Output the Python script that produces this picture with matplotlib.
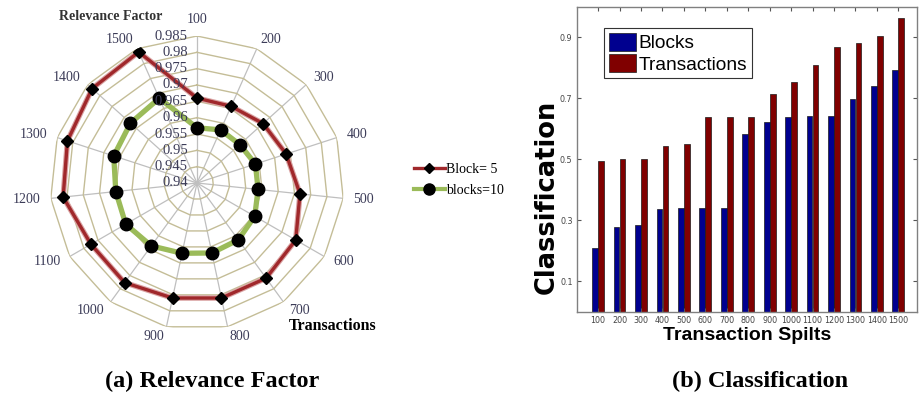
import numpy as np
import matplotlib
matplotlib.use("Agg")
import matplotlib.pyplot as plt
from matplotlib.lines import Line2D
from matplotlib.transforms import offset_copy

# ---------------- data ----------------
splits = [100, 200, 300, 400, 500, 600, 700, 800, 900, 1000, 1100, 1200, 1300, 1400, 1500]
split_labels = [str(s) for s in splits]

# (a) Relevance factor (radar)
block5 = [0.9660, 0.9657, 0.9672, 0.9687, 0.9717, 0.9749, 0.9760, 0.9760,
          0.9760, 0.9777, 0.9775, 0.9812, 0.9817, 0.9832, 0.9839]
blocks10 = [0.9569, 0.9578, 0.9576, 0.9588, 0.9588, 0.9604, 0.9615, 0.9619,
            0.9620, 0.9638, 0.9652, 0.9650, 0.9668, 0.9674, 0.9684]
ring_values = [0.945, 0.95, 0.955, 0.96, 0.965, 0.97, 0.975, 0.98, 0.985]
radial_ticks = [0.94, 0.945, 0.95, 0.955, 0.96, 0.965, 0.97, 0.975, 0.98, 0.985]
radial_labels = ["0.94", "0.945", "0.95", "0.955", "0.96", "0.965", "0.97", "0.975", "0.98", "0.985"]
r_min, r_max = 0.94, 0.985

# (b) Classification (bars)
blocks_cls = [0.208, 0.277, 0.285, 0.336, 0.339, 0.339, 0.339, 0.582,
              0.622, 0.640, 0.643, 0.643, 0.697, 0.741, 0.793]
trans_cls = [0.496, 0.500, 0.500, 0.544, 0.549, 0.640, 0.640, 0.640,
             0.715, 0.753, 0.810, 0.868, 0.883, 0.905, 0.963]
bar_yticks = [0.1, 0.3, 0.5, 0.7, 0.9]
bar_ytick_labels = ["0.1", "0.3", "0.5", "0.7", "0.9"]

W, H = 920, 399
fig = plt.figure(figsize=(W / 100, H / 100), dpi=100)
fig.patch.set_facecolor("white")

serif = ["Liberation Serif", "DejaVu Serif"]
sans = ["Liberation Sans", "DejaVu Sans"]

# ---------------- radar ----------------
cx, cy, R = 197, 183, 147
ax = fig.add_axes([(cx - R) / W, (H - cy - R) / H, 2 * R / W, 2 * R / H], projection="polar")
ax.set_theta_zero_location("N")
ax.set_theta_direction(-1)
ax.set_ylim(r_min, r_max)
ax.grid(False)
ax.spines["polar"].set_visible(False)
ax.set_xticks([])
ax.set_yticks([])
ax.patch.set_visible(False)

n = len(splits)
theta = np.deg2rad(np.arange(n) * 360.0 / n)
theta_c = np.append(theta, theta[0])

for t in theta:
    ax.plot([t, t], [r_min, r_max], color="#BFBFBF", lw=0.9, zorder=1)
for rv in ring_values:
    ax.plot(theta_c, [rv] * (n + 1), color="#C4BD97", lw=1.0, zorder=1.5)

b5 = np.append(block5, block5[0])
b10 = np.append(blocks10, blocks10[0])
ax.plot(theta_c, b10, color="#9BBB59", lw=3.8, zorder=3, solid_joinstyle="round")
ax.plot(theta_c[:-1], blocks10, ls="none", marker="o", ms=9, color="black", zorder=4)
ax.plot(theta_c, b5, color="#D9A3A3", lw=4.0, zorder=3, solid_joinstyle="round")
ax.plot(theta_c, b5, color="#A0282B", lw=2.4, zorder=3.2, solid_joinstyle="round")
ax.plot(theta_c[:-1], block5, ls="none", marker="D", ms=6.5, color="black", zorder=4)

# category labels
r_lab = r_min + (157 / R) * (r_max - r_min)
for t, lab in zip(theta, split_labels):
    s, c = np.sin(t), np.cos(t)
    ha = "center" if abs(s) < 0.15 else ("left" if s > 0 else "right")
    va = "bottom" if c > 0.95 else "center"
    ax.text(t, r_lab, lab, ha=ha, va=va, fontsize=10, family=serif, color="#3C3C58")

# radial tick labels along the first spoke
tr = offset_copy(ax.transData, fig=fig, x=-6.5, y=0, units="points")
for rv, lab in zip(radial_ticks, radial_labels):
    ax.text(0, rv, lab, transform=tr, ha="right", va="center", fontsize=10.5,
            family=serif, color="#3C3C58", zorder=5)

fig.text(111 / W, 1 - 17 / H, "Relevance Factor", ha="center", va="center",
         fontsize=10, family=serif, weight="bold", color="#333333")
fig.text(333 / W, 1 - 326 / H, "Transactions", ha="center", va="center",
         fontsize=11.5, family=serif, weight="bold", color="black")

handles = [
    Line2D([], [], color="#A0282B", lw=2.4, marker="D", ms=5.5, mfc="black", mec="black"),
    Line2D([], [], color="#9BBB59", lw=3.0, marker="o", ms=8, mfc="black", mec="black"),
]
fig.legend(handles, ["Block= 5", "blocks=10"], loc="upper left",
           bbox_to_anchor=(414 / W, 1 - 163 / H), frameon=False,
           prop={"family": serif, "size": 10}, handlelength=2.2,
           handletextpad=0.1, labelspacing=0.55, borderpad=0, borderaxespad=0)

# ---------------- bar chart ----------------
bx0, bx1, by0, by1 = 576.7, 917.0, 7.0, 311.7
ax2 = fig.add_axes([bx0 / W, (H - by1) / H, (bx1 - bx0) / W, (by1 - by0) / H])
x = np.arange(1, n + 1)
bw = 0.27
ax2.bar(x - 0.14, blocks_cls, bw, color="#00008F", edgecolor="#1a1a1a", lw=0.5, label="Blocks")
ax2.bar(x + 0.14, trans_cls, bw, color="#800000", edgecolor="#1a1a1a", lw=0.5, label="Transactions")
ax2.set_xlim(0, 15.87)
ax2.set_ylim(0, 1.0)
ax2.set_xticks(x)
ax2.set_xticklabels(split_labels)
ax2.set_yticks(bar_yticks)
ax2.set_yticklabels(bar_ytick_labels)
ax2.tick_params(direction="in", top=True, right=True, length=3, width=0.8,
                color="#555555", labelsize=5.8, labelcolor="#444444", pad=3)
for sp in ax2.spines.values():
    sp.set_color("#808080")
    sp.set_linewidth(1.0)

ax2.set_ylabel("Classification", family=["DejaVu Sans"], weight="bold", fontsize=18.5)
ax2.yaxis.set_label_coords((547 - bx0) / (bx1 - bx0), (by1 - 197) / (by1 - by0))
ax2.set_xlabel("Transaction Spilts", family=sans, weight="bold", fontsize=14)
ax2.xaxis.set_label_coords(0.5, (by1 - 335) / (by1 - by0))
ax2.xaxis.label.set_va("center")
ax2.yaxis.label.set_va("center")

leg = ax2.legend(loc="upper left", bbox_to_anchor=((604 - bx0) / (bx1 - bx0), (by1 - 28) / (by1 - by0)),
                 borderaxespad=0, prop={"family": sans, "size": 13.8}, handlelength=1.4,
                 handleheight=1.05, handletextpad=0.15, labelspacing=0.1, borderpad=0.25,
                 fancybox=False, framealpha=1)
leg.get_frame().set_edgecolor("#333333")
leg.get_frame().set_linewidth(0.8)

# ---------------- captions ----------------
fig.text(212 / W, 1 - 381 / H, "(a) Relevance Factor", ha="center", va="center",
         fontsize=17.5, family=serif, weight="bold")
fig.text(760 / W, 1 - 381 / H, "(b) Classification", ha="center", va="center",
         fontsize=17.5, family=serif, weight="bold")

fig.savefig("out.png", dpi=100, facecolor="white")
